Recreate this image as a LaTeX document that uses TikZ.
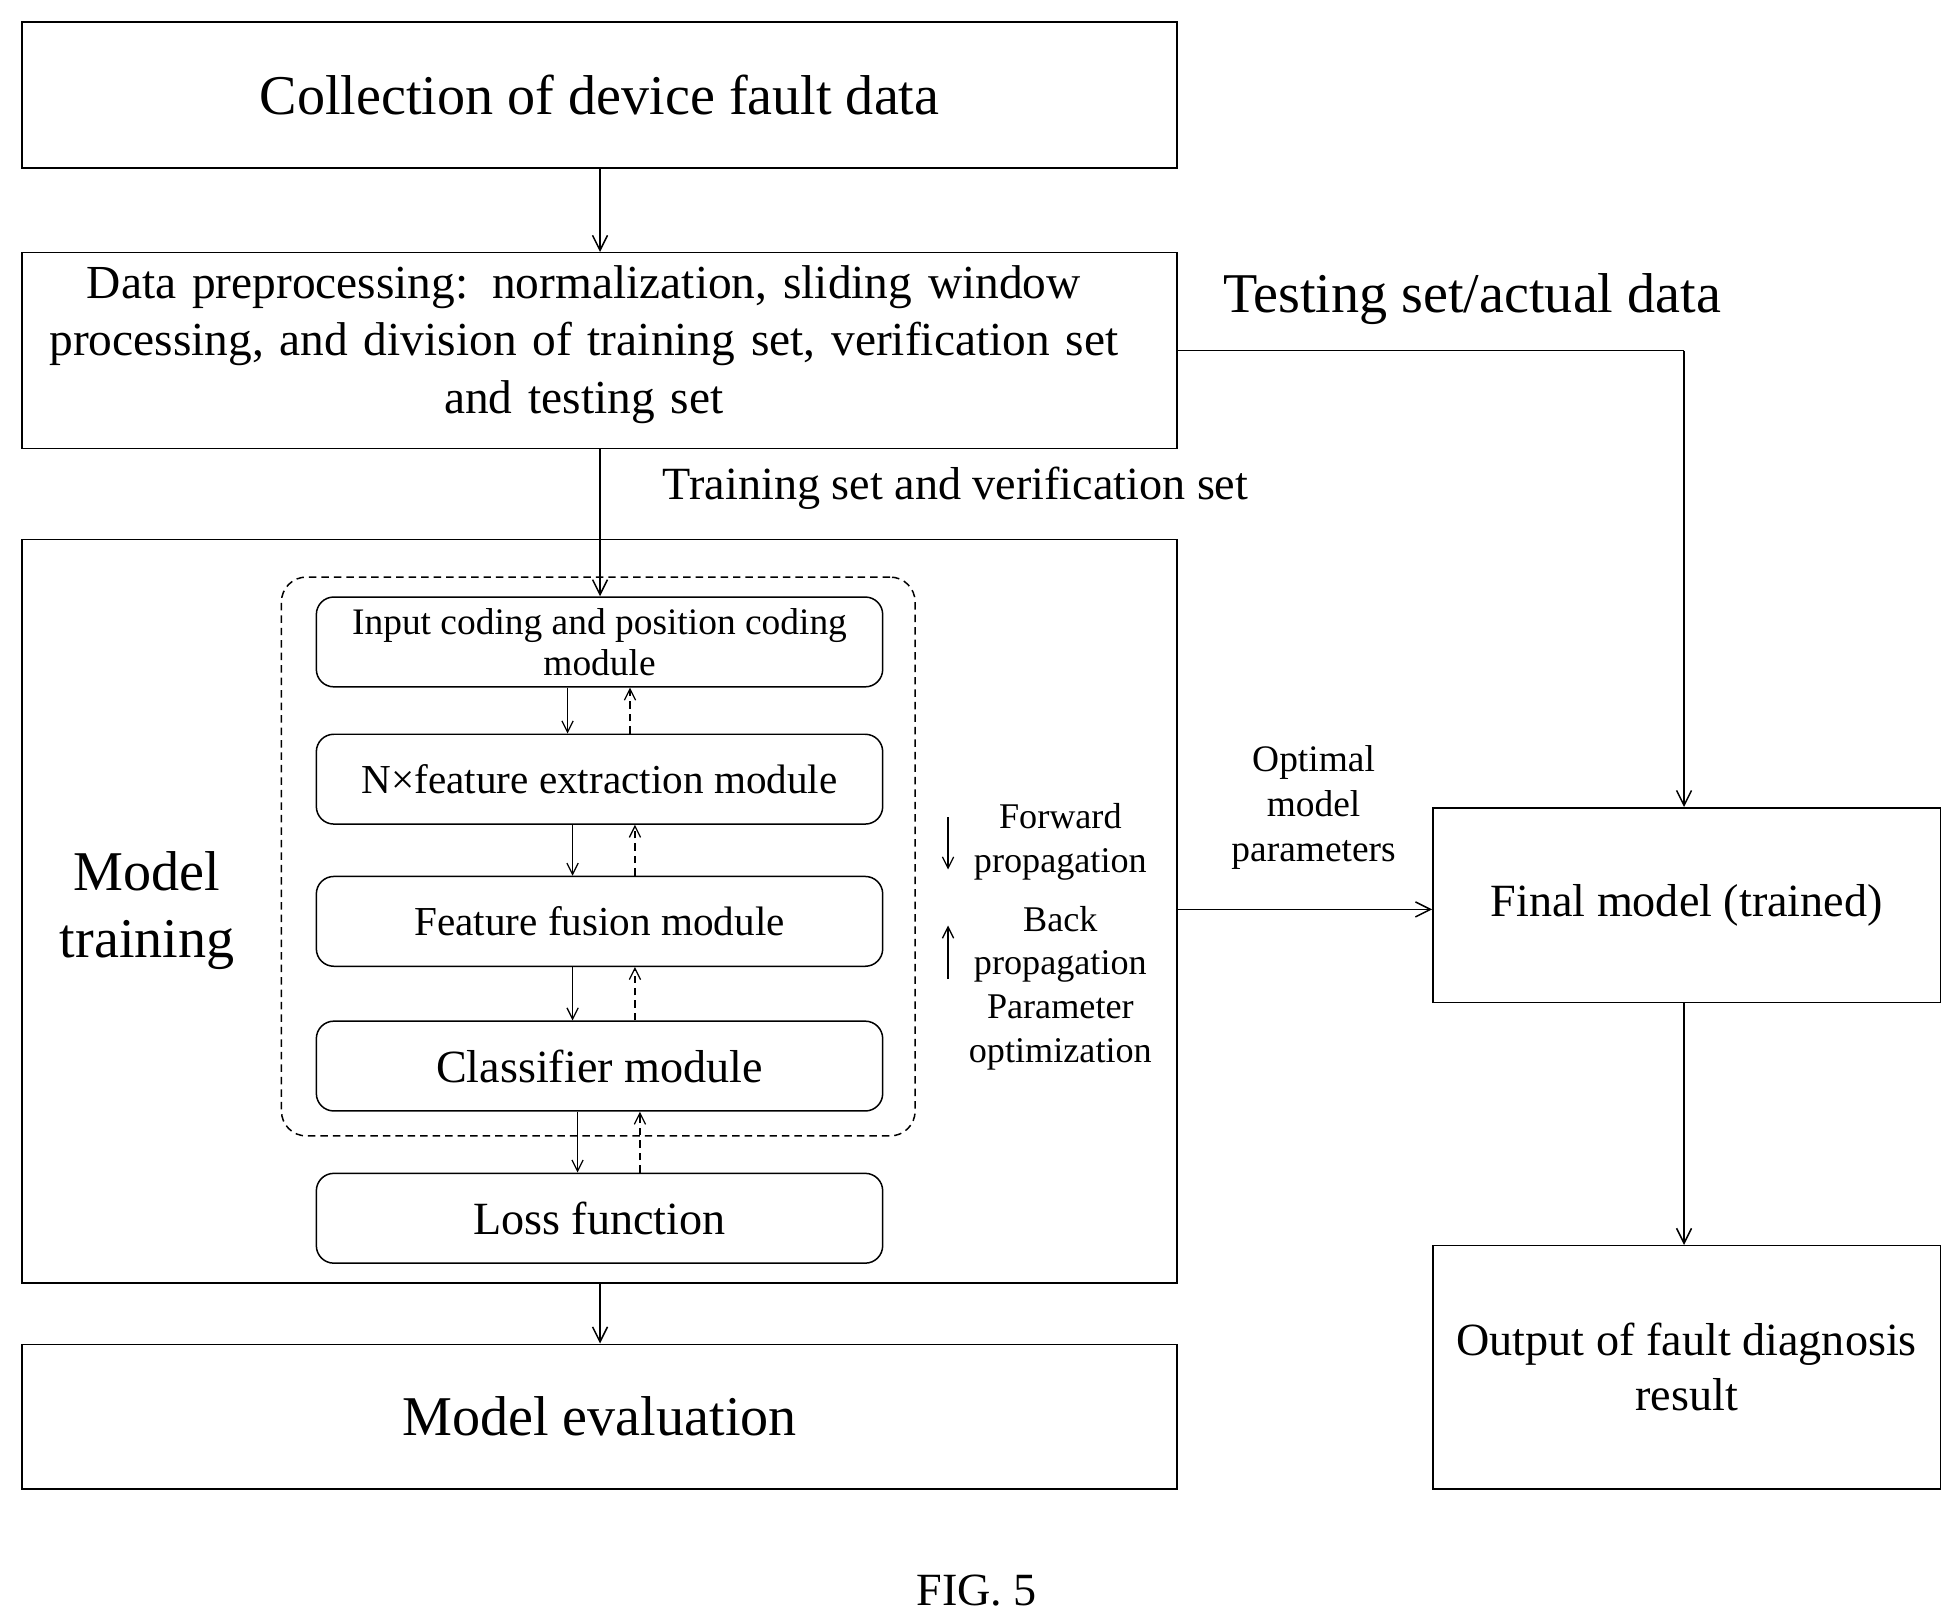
\documentclass[tikz,border=0pt]{standalone}
\usepackage{fontspec}
\setmainfont{Liberation Serif}
\usetikzlibrary{arrows.meta}
\newcommand{\fs}[1]{\fontsize{#1}{\numexpr#1*6/5\relax}\selectfont}
\begin{document}
\begin{tikzpicture}[x=1pt,y=-1pt,line width=1.2pt,
  box/.style={draw,minimum width=926pt,anchor=north west},
  mod/.style={draw,rounded corners=14pt,minimum width=454pt,minimum height=72pt,anchor=north west,align=center,inner sep=2pt},
  arr/.style={-{Straight Barb[length=12pt,width=12pt]}},
  sarr/.style={-{Straight Barb[length=9pt,width=9pt]},line width=1pt},
  dsh/.style={dash pattern=on 6pt off 4pt}]
\useasboundingbox (0,0) rectangle (1560,1298);
\node[box,minimum height=117pt,font=\fs{45}] (b1) at (17,17) {Collection of device fault data};
\node[box,minimum height=157pt] (b2) at (17,202) {};
\node[font=\fs{38},align=center,text width=920pt,inner sep=0] (t2) at (468,276) {Data preprocessing: normalization, sliding window\\processing, and division of training set, verification set\\and testing set};
\node[box,minimum height=596pt] (b3) at (17,432) {};
\node[box,minimum height=116pt,font=\fs{45}] (b4) at (17,1077) {Model evaluation};
\node[draw,dsh,rounded corners=20pt,minimum width=508pt,minimum height=448pt,anchor=north west] (dash) at (225,462) {};
\node[mod,font=\fs{30}] (m1) at (253,478) {Input coding and position coding\\[-3pt]module};
\node[mod,font=\fs{33}] (m2) at (253,588) {N×feature extraction module};
\node[mod,font=\fs{33}] (m3) at (253,702) {Feature fusion module};
\node[mod,font=\fs{37}] (m4) at (253,818) {Classifier module};
\node[mod,font=\fs{37}] (m5) at (253,940) {Loss function};
\node[font=\fs{45},align=center] (mt) at (118,730) {Model\\training};
\node[draw,minimum width=407pt,minimum height=156pt,anchor=north west,font=\fs{37}] (fm) at (1148,647) {Final model (trained)};
\node[draw,minimum width=407pt,minimum height=195pt,anchor=north west,font=\fs{37},align=center] (out) at (1148,998) {Output of fault diagnosis\\result};
\node[font=\fs{45}] (ts) at (1180,240) {Testing set/actual data};
\node[font=\fs{37}] (tr) at (766,391) {Training set and verification set};
\node[font=\fs{30},align=center] (omp) at (1053,647) {Optimal\\model\\parameters};
\node[font=\fs{29},align=center] (fw) at (850,675) {Forward\\propagation};
\node[font=\fs{29},align=center] (bw) at (850,792) {Back\\propagation\\Parameter\\optimization};
\node[font=\fs{37}] (fig) at (783,1275) {FIG. 5};
\coordinate (c1) at (1350,281);
\draw[arr] (b1.south -| 481,0) -- (b2.north -| 481,0);
\draw[arr] (b2.south -| 481,0) -- (m1.north -| 481,0);
\draw (b2.east |- c1) -- (c1);
\draw[arr] (c1) -- (fm.north -| c1);
\draw[arr] (b3.east |- 0,729) -- (fm.west |- 0,729);
\draw[arr] (fm.south -| c1) -- (out.north -| c1);
\draw[arr] (b3.south -| 481,0) -- (b4.north -| 481,0);
\foreach \a/\b/\x in {m1/m2/455,m2/m3/459,m3/m4/459,m4/m5/463}{
  \draw[sarr] (\a.south -| \x,0) -- (\b.north -| \x,0);
  \draw[sarr,dsh] (\b.north -| \x+50,0) -- (\a.south -| \x+50,0);}
\coordinate (l1) at (760,655); \coordinate (l2) at (760,697);
\coordinate (l3) at (760,785); \coordinate (l4) at (760,742);
\draw[sarr] (l1) -- (l2);
\draw[sarr] (l3) -- (l4);
\end{tikzpicture}
\end{document}
